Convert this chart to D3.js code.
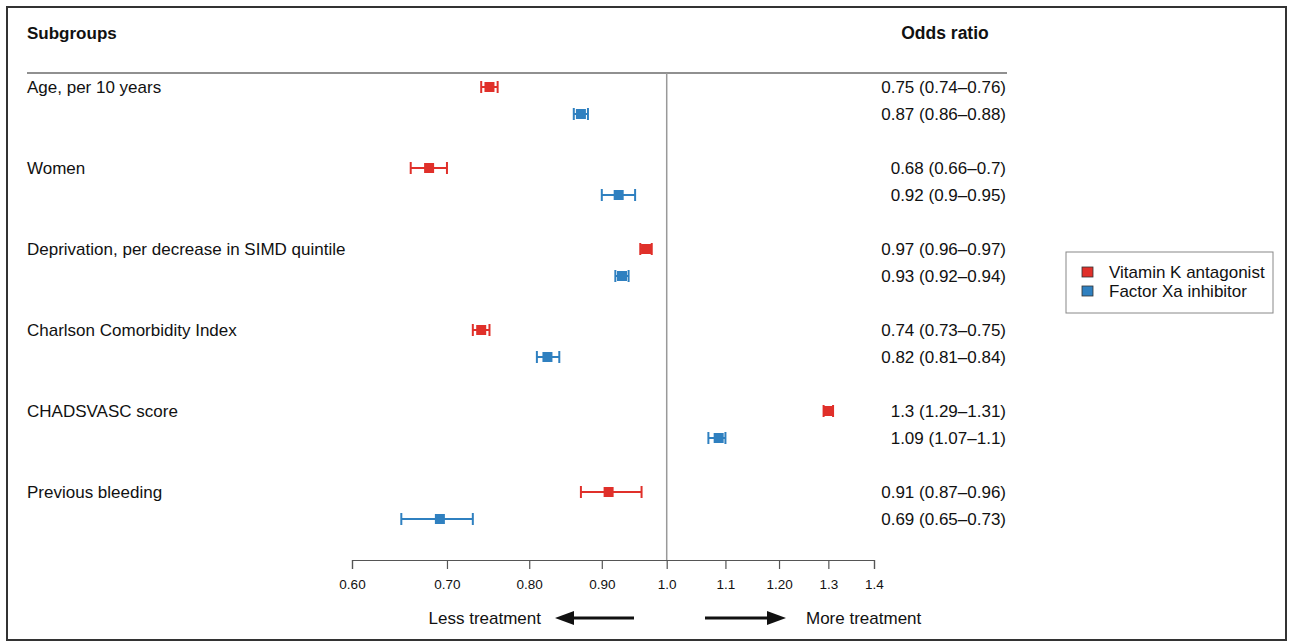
<!DOCTYPE html>
<html>
<head>
<meta charset="utf-8">
<script src="https://cdn.jsdelivr.net/npm/d3@7/dist/d3.min.js"></script>
<style>
  html, body { margin: 0; padding: 0; background: #fff; }
  svg { display: block; }
  text { font-family: "Liberation Sans", Arial, Helvetica, sans-serif; fill: #111; }
</style>
</head>
<body>
<svg id="chart" width="1293" height="644"></svg>
<script>
// ---------------- DATA ----------------
const subgroups = ["Age, per 10 years", "Women", "Deprivation, per decrease in SIMD quintile",
                   "Charlson Comorbidity Index", "CHADSVASC score", "Previous bleeding"];
const seriesNames = ["Vitamin K antagonist", "Factor Xa inhibitor"];

const vkaEst   = [0.75, 0.68, 0.967, 0.74, 1.30, 0.91];
const vkaLow   = [0.74, 0.66, 0.958, 0.73, 1.29, 0.87];
const vkaHigh  = [0.76, 0.70, 0.976, 0.75, 1.31, 0.96];
const vkaText  = ["0.75 (0.74\u20130.76)", "0.68 (0.66\u20130.7)", "0.97 (0.96\u20130.97)",
                  "0.74 (0.73\u20130.75)", "1.3 (1.29\u20131.31)", "0.91 (0.87\u20130.96)"];

const fxaEst   = [0.87, 0.925, 0.93, 0.824, 1.088, 0.692];
const fxaLow   = [0.86, 0.90, 0.92, 0.81, 1.07, 0.65];
const fxaHigh  = [0.88, 0.95, 0.94, 0.84, 1.10, 0.73];
const fxaText  = ["0.87 (0.86\u20130.88)", "0.92 (0.9\u20130.95)", "0.93 (0.92\u20130.94)",
                  "0.82 (0.81\u20130.84)", "1.09 (1.07\u20131.1)", "0.69 (0.65\u20130.73)"];

const tickValues = [0.6, 0.7, 0.8, 0.9, 1.0, 1.1, 1.2, 1.3, 1.4];
const tickLabels = ["0.60", "0.70", "0.80", "0.90", "1.0", "1.1", "1.20", "1.3", "1.4"];
const colors = ["#e0302a", "#2f80c0"];

// ---------------- LAYOUT ----------------
const svg = d3.select("#chart");
const x = d3.scaleLog().domain([0.6, 1.4]).range([352, 874]);

// 18 slots: each subgroup has VKA row, FXa row, blank row
const slots = d3.range(18);
const y = d3.scaleBand().domain(slots).range([73.5, 559.5]).paddingInner(0).paddingOuter(0);
const rowY = (g, s) => y(g * 3 + s) + y.bandwidth() / 2;

// frame
svg.append("rect").attr("x", 7).attr("y", 7).attr("width", 1279).attr("height", 633)
  .attr("fill", "none").attr("stroke", "#333").attr("stroke-width", 2);

// headers
svg.append("text").attr("x", 27).attr("y", 33).attr("dy", "0.35em")
  .style("font-size", "17px").style("font-weight", "bold").text("Subgroups");
svg.append("text").attr("x", 945).attr("y", 33).attr("dy", "0.35em").attr("text-anchor", "middle")
  .style("font-size", "17.5px").style("font-weight", "bold").text("Odds ratio");
svg.append("line").attr("x1", 27).attr("x2", 1007).attr("y1", 73).attr("y2", 73)
  .attr("stroke", "#222").attr("stroke-width", 1.2);

// reference line
svg.append("line").attr("x1", x(1)).attr("x2", x(1)).attr("y1", 73).attr("y2", 560)
  .attr("stroke", "#999").attr("stroke-width", 1.5);

// subgroup labels
svg.append("g").selectAll("text").data(subgroups).join("text")
  .attr("x", 27).attr("y", (d, i) => rowY(i, 0)).attr("dy", "0.35em")
  .style("font-size", "17px").text(d => d);

// series
const series = [
  { est: vkaEst, lo: vkaLow, hi: vkaHigh, txt: vkaText, slot: 0, color: colors[0] },
  { est: fxaEst, lo: fxaLow, hi: fxaHigh, txt: fxaText, slot: 1, color: colors[1] }
];

series.forEach(s => {
  const g = svg.append("g");
  const data = s.est.map((v, i) => ({ i, v, lo: s.lo[i], hi: s.hi[i], t: s.txt[i] }));
  const cap = 6;
  g.selectAll("line.ci").data(data).join("line").attr("class", "ci")
    .attr("x1", d => x(d.lo)).attr("x2", d => x(d.hi))
    .attr("y1", d => rowY(d.i, s.slot)).attr("y2", d => rowY(d.i, s.slot))
    .attr("stroke", s.color).attr("stroke-width", 2);
  g.selectAll("line.capl").data(data).join("line").attr("class", "capl")
    .attr("x1", d => x(d.lo)).attr("x2", d => x(d.lo))
    .attr("y1", d => rowY(d.i, s.slot) - cap).attr("y2", d => rowY(d.i, s.slot) + cap)
    .attr("stroke", s.color).attr("stroke-width", 2);
  g.selectAll("line.caph").data(data).join("line").attr("class", "caph")
    .attr("x1", d => x(d.hi)).attr("x2", d => x(d.hi))
    .attr("y1", d => rowY(d.i, s.slot) - cap).attr("y2", d => rowY(d.i, s.slot) + cap)
    .attr("stroke", s.color).attr("stroke-width", 2);
  g.selectAll("rect").data(data).join("rect")
    .attr("x", d => x(d.v) - 5).attr("y", d => rowY(d.i, s.slot) - 5)
    .attr("width", 10).attr("height", 10).attr("fill", s.color);
  g.selectAll("text").data(data).join("text")
    .attr("x", 1006).attr("y", d => rowY(d.i, s.slot)).attr("dy", "0.35em")
    .attr("text-anchor", "end").style("font-size", "17px").text(d => d.t);
});

// x axis
const axis = d3.axisBottom(x).tickValues(tickValues)
  .tickFormat((d, i) => tickLabels[i]).tickSizeOuter(0).tickSize(9).tickPadding(10);
const ax = svg.append("g").attr("transform", "translate(0,560)").call(axis);
ax.select(".domain").attr("stroke", "#555").attr("stroke-width", 1.2);
ax.selectAll(".tick line").attr("stroke", "#555").attr("stroke-width", 1.2);
ax.selectAll(".tick text").style("font-size", "13.5px")
  .style("font-family", "'Liberation Sans', Arial, sans-serif").attr("fill", "#111");

// arrows
svg.append("text").attr("x", 541).attr("y", 618).attr("dy", "0.35em").attr("text-anchor", "end")
  .style("font-size", "17px").text("Less treatment");
svg.append("text").attr("x", 806).attr("y", 618).attr("dy", "0.35em")
  .style("font-size", "17px").text("More treatment");
svg.append("line").attr("x1", 634).attr("x2", 568).attr("y1", 618).attr("y2", 618)
  .attr("stroke", "#111").attr("stroke-width", 3);
svg.append("path").attr("d", "M555,618 L574,611 L574,625 Z").attr("fill", "#111");
svg.append("line").attr("x1", 705).attr("x2", 773).attr("y1", 618).attr("y2", 618)
  .attr("stroke", "#111").attr("stroke-width", 3);
svg.append("path").attr("d", "M786,618 L767,611 L767,625 Z").attr("fill", "#111");

// legend
const lg = svg.append("g");
lg.append("rect").attr("x", 1066).attr("y", 252).attr("width", 207).attr("height", 61)
  .attr("fill", "#fff").attr("stroke", "#888").attr("stroke-width", 1);
lg.selectAll("rect.sw").data(seriesNames).join("rect").attr("class", "sw")
  .attr("x", 1082).attr("y", (d, i) => 267 + i * 19).attr("width", 11).attr("height", 10)
  .attr("fill", (d, i) => colors[i]).attr("stroke", "#333").attr("stroke-width", 0.8);
lg.selectAll("text").data(seriesNames).join("text")
  .attr("x", 1109).attr("y", (d, i) => 272 + i * 19).attr("dy", "0.35em")
  .style("font-size", "17px").text(d => d);
</script>
</body>
</html>
